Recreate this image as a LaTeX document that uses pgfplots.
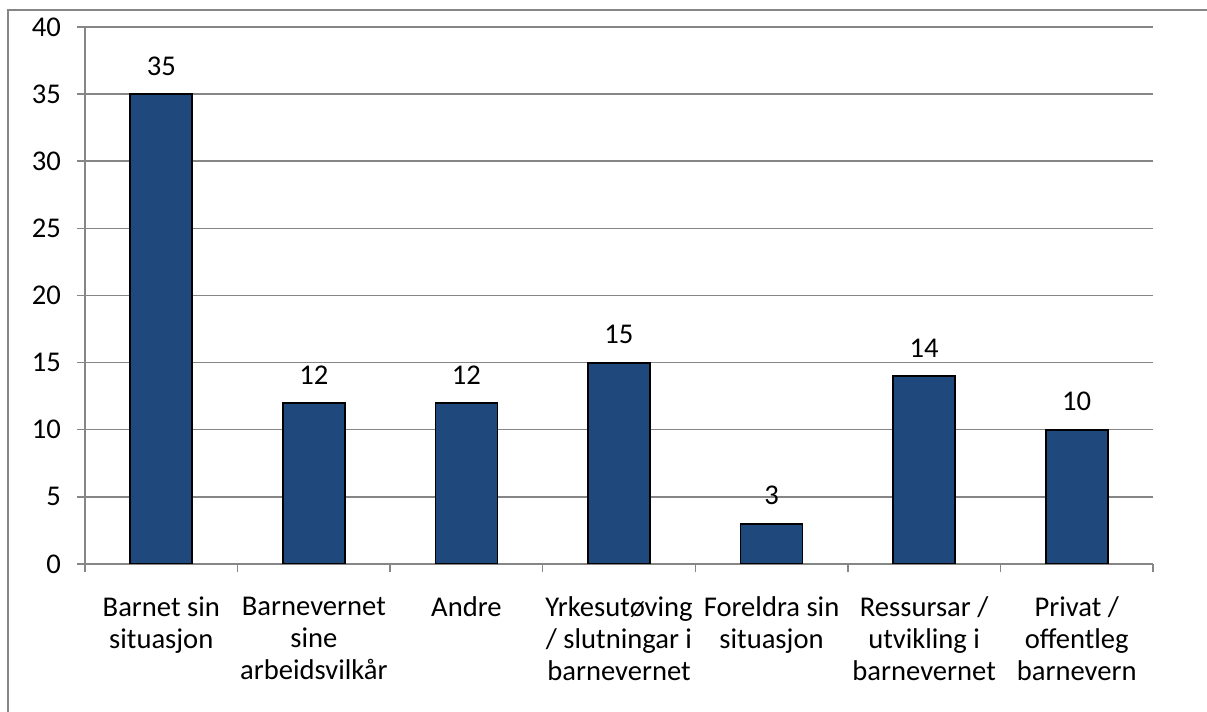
\documentclass[border=0pt]{standalone}
\usepackage{pgfplots}
\pgfplotsset{compat=1.18}
\usepackage{fontspec}
\setmainfont{Carlito}
\definecolor{barblue}{RGB}{31,73,125}
\definecolor{gridgray}{RGB}{134,134,134}

\begin{document}
\begin{tikzpicture}
\useasboundingbox (0,0) rectangle (603.5pt,356pt);
% chart area frame (only left and top visible in the reference)
\draw[gridgray, line width=0.75pt] (4pt,-2pt) -- (4pt,351pt) -- (606pt,351pt);
\begin{axis}[
    at={(42.5pt,74pt)}, anchor=south west,
    scale only axis, width=534pt, height=268.5pt,
    xmin=-0.5, xmax=6.5, ymin=0, ymax=40,
    ytick={0,5,...,40},
    xtick={0,...,6},
    xticklabels={{Barnet sin\\situasjon},{Barnevernet\\sine\\arbeidsvilkår},{Andre},
        {Yrkesutøving\\/ slutningar i\\barnevernet},{Foreldra sin\\situasjon},
        {Ressursar /\\utvikling i\\barnevernet},{Privat /\\offentleg\\barnevern}},
    major x tick style={draw=none},
    extra x ticks={-0.5,0.5,...,6.5},
    extra x tick labels={},
    extra x tick style={major x tick style={draw=gridgray, line width=0.75pt}, grid=none},
    axis lines*=left,
    axis line style={-, gridgray, line width=0.75pt},
    tick align=outside,
    major tick length=4pt,
    y tick style={gridgray, line width=0.75pt},
    ymajorgrids,
    grid style={gridgray, line width=0.75pt},
    /pgf/number format/assume math mode=true,
    tick label style={font=\fontsize{14.3}{16}\selectfont},
    yticklabel style={xshift=-4.5pt},
    xticklabel style={align=center, yshift=-9pt},
    ybar, bar width=31pt,
    nodes near coords,
    every node near coord/.append style={font=\fontsize{14.3}{16}\selectfont, yshift=5.5pt},
]
\addplot[fill=barblue, draw=black, line width=0.9pt] coordinates {
    (0,35) (1,12) (2,12) (3,15) (4,3) (5,14) (6,10)
};
\end{axis}
\end{tikzpicture}
\end{document}
